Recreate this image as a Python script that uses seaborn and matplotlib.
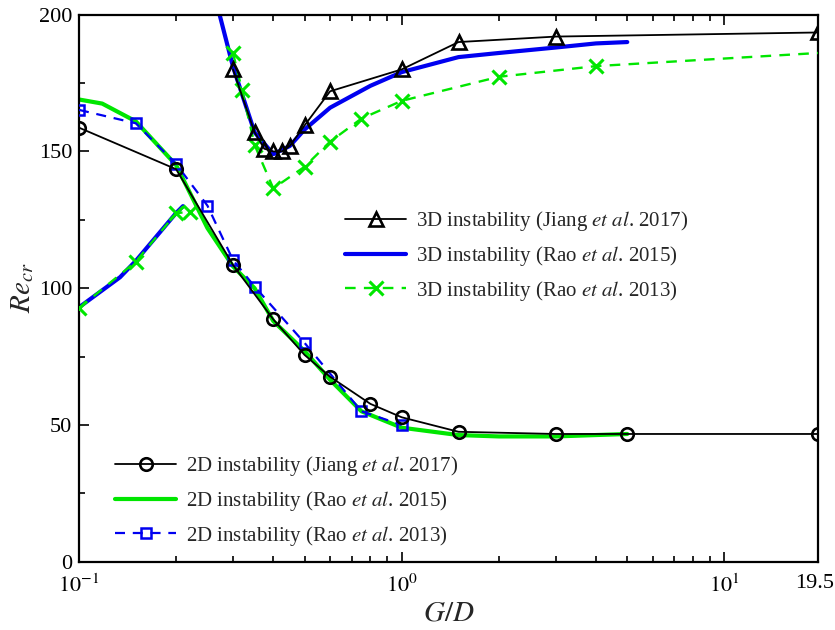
import numpy as np
import pandas as pd
import matplotlib
matplotlib.use("Agg")
import matplotlib.pyplot as plt
import matplotlib.transforms as mtransforms
import seaborn as sns
from matplotlib.ticker import FixedLocator, LogLocator, MultipleLocator, NullFormatter, FixedFormatter

# ---------------- data ----------------
# 3D instability, Jiang et al. 2017
x_3d_jiang = [0.3, 0.35, 0.375, 0.4, 0.425, 0.45, 0.5, 0.6, 1.0, 1.5, 3.0, 19.5]
y_3d_jiang = [180, 157, 151, 150, 150, 152, 159.5, 172, 180, 190, 192, 193.5]
# 3D instability, Rao et al. 2015 (two branches)
x_3d_rao15_a = [0.1, 0.134, 0.15, 0.2, 0.21]
y_3d_rao15_a = [93, 104, 110, 127.5, 130]
x_3d_rao15_b = [0.27, 0.3, 0.35, 0.4, 0.45, 0.5, 0.6, 0.8, 1.0, 1.5, 2.0, 3.0, 4.0, 5.0]
y_3d_rao15_b = [202, 181, 157, 149, 152, 158, 166, 174, 179, 184.5, 186, 188, 189.5, 190]
# 3D instability, Rao et al. 2013 (two branches)
x_3d_rao13_a = [0.1, 0.15, 0.2, 0.22]
y_3d_rao13_a = [92.7, 109.7, 127.4, 128]
x_3d_rao13_b = [0.3, 0.32, 0.35, 0.4, 0.5, 0.6, 0.75, 1.0, 2.0, 4.0, 19.5]
y_3d_rao13_b = [186, 172.5, 152.4, 136.5, 144.4, 153.6, 162, 168.5, 177.3, 181.2, 186]
# 2D instability, Jiang et al. 2017
x_2d_jiang = [0.1, 0.2, 0.3, 0.4, 0.5, 0.6, 0.8, 1.0, 1.5, 3.0, 5.0, 19.5]
y_2d_jiang = [158.7, 143.5, 108.5, 88.6, 75.6, 67.6, 57.7, 52.8, 47.5, 46.7, 46.7, 46.7]
# 2D instability, Rao et al. 2015
x_2d_rao15 = [0.1, 0.118, 0.15, 0.2, 0.25, 0.3, 0.35, 0.4, 0.5, 0.6, 0.75, 1.0, 1.5, 2.0, 3.0, 5.0]
y_2d_rao15 = [169, 167.5, 161, 145, 122, 108, 100, 88, 77, 66.5, 55, 49, 46.3, 45.8, 45.8, 46.7]
# 2D instability, Rao et al. 2013
x_2d_rao13 = [0.1, 0.15, 0.2, 0.25, 0.3, 0.35, 0.5, 0.75, 1.0]
y_2d_rao13 = [165.2, 160.3, 145.4, 130.2, 110.3, 100.6, 80, 55, 50]

x_ticks = [0.1, 1.0, 10.0, 19.5]
x_ticklabels = [r"$10^{-1}$", r"$10^{0}$", r"$10^{1}$", "19.5"]
y_ticks = [0, 50, 100, 150, 200]

labels_3d = [r"3D instability (Jiang $\mathit{et\ al}$. 2017)",
             r"3D instability (Rao $\mathit{et\ al}$. 2015)",
             r"3D instability (Rao $\mathit{et\ al}$. 2013)"]
labels_2d = [r"2D instability (Jiang $\mathit{et\ al}$. 2017)",
             r"2D instability (Rao $\mathit{et\ al}$. 2015)",
             r"2D instability (Rao $\mathit{et\ al}$. 2013)"]

# ---------------- style ----------------
sns.set_style("ticks")
plt.rcParams["font.family"] = ["Liberation Serif", "DejaVu Serif"]
plt.rcParams["mathtext.fontset"] = "stix"

BLACK = "#000000"
BLUE = "#0000f0"
GREEN = "#00e600"

fig = plt.figure(figsize=(8.35, 6.3), dpi=100)
ax = fig.add_axes([79 / 835, (630 - 561.7) / 630, (818 - 79) / 835, (561.7 - 14.7) / 630])


def draw(x, y, **kw):
    n_before = len(ax.lines)
    df = pd.DataFrame({"x": x, "y": y})
    sns.lineplot(data=df, x="x", y="y", ax=ax, sort=False, estimator=None,
                 legend=False, **kw)
    return ax.lines[n_before]


# thick lines first
l_3d_r15a = draw(x_3d_rao15_a, y_3d_rao15_a, color=BLUE, linewidth=3.0, zorder=2)
l_3d_r15 = draw(x_3d_rao15_b, y_3d_rao15_b, color=BLUE, linewidth=3.0, zorder=2)
l_2d_r15 = draw(x_2d_rao15, y_2d_rao15, color=GREEN, linewidth=3.0, zorder=2)

# dashed with markers
l_3d_r13a = draw(x_3d_rao13_a, y_3d_rao13_a, color=GREEN, linewidth=1.7, marker="x",
                 markersize=10, markeredgewidth=2.2, markeredgecolor=GREEN, zorder=3)
l_3d_r13 = draw(x_3d_rao13_b, y_3d_rao13_b, color=GREEN, linewidth=1.7, marker="x",
                markersize=10, markeredgewidth=2.2, markeredgecolor=GREEN, zorder=3,
                markevery=list(range(len(x_3d_rao13_b) - 1)))
for ln in (l_3d_r13a, l_3d_r13):
    ln.set_dashes([4.5, 3.5])

l_2d_r13 = draw(x_2d_rao13, y_2d_rao13, color=BLUE, linewidth=1.6, marker="s",
                markersize=6.5, markeredgewidth=1.8, markerfacecolor="none",
                markeredgecolor=BLUE, zorder=3)
l_2d_r13.set_dashes([4.5, 3.5])

# black lines on top
l_3d_j = draw(x_3d_jiang, y_3d_jiang, color=BLACK, linewidth=1.3, marker="^",
              markersize=10, markeredgewidth=1.9, markerfacecolor="none",
              markeredgecolor=BLACK, zorder=4)
l_2d_j = draw(x_2d_jiang, y_2d_jiang, color=BLACK, linewidth=1.3, marker="o",
              markersize=9, markeredgewidth=1.9, markerfacecolor="none",
              markeredgecolor=BLACK, zorder=4)

# ---------------- axes ----------------
ax.set_xscale("log")
ax.set_xlim(0.1, 19.5)
ax.set_ylim(0, 200)

ax.xaxis.set_major_locator(FixedLocator(x_ticks))
ax.xaxis.set_major_formatter(FixedFormatter(x_ticklabels))
ax.xaxis.set_minor_locator(LogLocator(base=10, subs=np.arange(2, 10)))
ax.xaxis.set_minor_formatter(NullFormatter())
ax.yaxis.set_major_locator(FixedLocator(y_ticks))
ax.yaxis.set_minor_locator(MultipleLocator(25))

ax.tick_params(which="both", direction="in", top=True, right=False, labelsize=16,
               width=1.2, colors=BLACK)
ax.tick_params(which="major", length=7)
ax.tick_params(which="minor", length=4)
ax.tick_params(axis="x", which="major", pad=9)
ax.tick_params(axis="y", which="major", pad=5)

for s in ax.spines.values():
    s.set_linewidth(1.6)
    s.set_color(BLACK)

ax.set_xlabel(r"$G/D$", fontsize=21, labelpad=3)
ax.set_ylabel(r"$Re_{cr}$", fontsize=21, labelpad=2)

# nudge the last x tick label ("19.5") a little left so it fits inside the figure
fig.canvas.draw()
last_lbl = ax.get_xticklabels()[-1]
last_lbl.set_transform(last_lbl.get_transform() +
                       mtransforms.ScaledTranslation(-3 / 100, 0, fig.dpi_scale_trans))

# ---------------- legends ----------------
leg_kw = dict(frameon=False, fontsize=15, handlelength=2.95, handletextpad=0.45,
              labelspacing=0.52, borderpad=0, borderaxespad=0, loc="upper left")

leg3 = fig.legend([l_3d_j, l_3d_r15, l_3d_r13], labels_3d,
                  bbox_to_anchor=(345 / 835, (630 - 209) / 630), **leg_kw)
leg2 = fig.legend([l_2d_j, l_2d_r15, l_2d_r13], labels_2d,
                  bbox_to_anchor=(115 / 835, (630 - 454) / 630), **leg_kw)

fig.savefig("out.png", dpi=100)
